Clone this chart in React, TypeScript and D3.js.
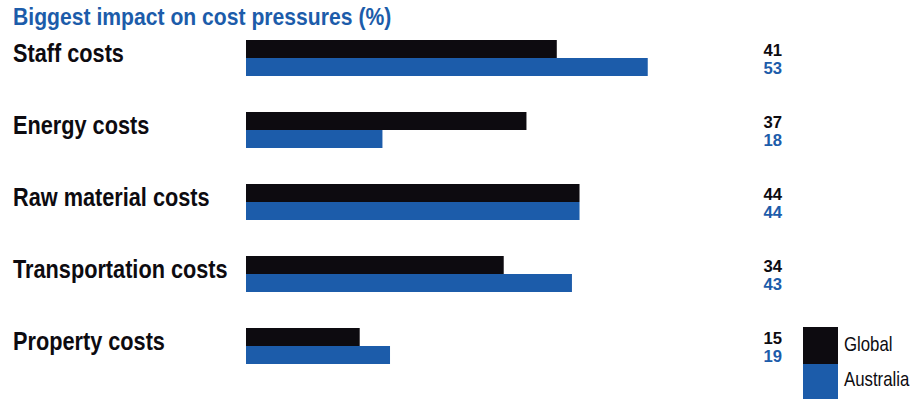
import React from "react";
import * as d3 from "d3";

const categories = ["Staff costs", "Energy costs", "Raw material costs", "Transportation costs", "Property costs"];
const globalValues = [41, 37, 44, 34, 15];
const australiaValues = [53, 18, 44, 43, 19];
const seriesNames = ["Global", "Australia"];
const title = "Biggest impact on cost pressures (%)";

const W = 915;
const H = 399;
const BLACK = "#0d0b10";
const BLUE = "#1c5caa";
const SANS = "'Liberation Sans', Arial, sans-serif";

function SText({ x, y, sx, children, ...rest }: any) {
  return (
    <text transform={`translate(${x},${y}) scale(${sx},1)`} fontFamily={SANS} {...rest}>
      {children}
    </text>
  );
}

export default function App() {
  const x = d3.scaleLinear().domain([0, 100]).range([246, 1004]);
  const y = d3.scaleBand<string>().domain(categories).range([40, 400]).padding(0);
  const barH = 18;
  const colors = [BLACK, BLUE];

  return (
    <svg width={W} height={H} style={{ position: "absolute", left: 0, top: 0, background: "#fff" }}>
      <SText x={13} y={25} sx={0.92} fill={BLUE} fontWeight={700} fontSize={23}>
        {title}
      </SText>
      {categories.map((c, i) => {
        const top = y(c)!;
        return (
          <g key={c}>
            <SText x={13} y={top + 22} sx={0.835} fill={BLACK} fontWeight={700} fontSize={26}>
              {c}
            </SText>
            <rect x={x(0)} y={top} width={x(globalValues[i]) - x(0)} height={barH} fill={BLACK} />
            <rect x={x(0)} y={top + barH} width={x(australiaValues[i]) - x(0)} height={barH} fill={BLUE} />
            <SText x={782} y={top + barH / 2 + 7} sx={0.98} textAnchor="end" fill={BLACK} fontWeight={700} fontSize={17}>
              {globalValues[i]}
            </SText>
            <SText x={782} y={top + barH * 1.5 + 7} sx={0.98} textAnchor="end" fill={BLUE} fontWeight={700} fontSize={17}>
              {australiaValues[i]}
            </SText>
          </g>
        );
      })}
      {seriesNames.map((s, i) => (
        <g key={s}>
          <rect x={803} y={327 + i * 37} width={35} height={37} fill={colors[i]} />
          <SText x={844} y={351 + i * 35} sx={0.84} fill={BLACK} fontSize={20}>
            {s}
          </SText>
        </g>
      ))}
    </svg>
  );
}
